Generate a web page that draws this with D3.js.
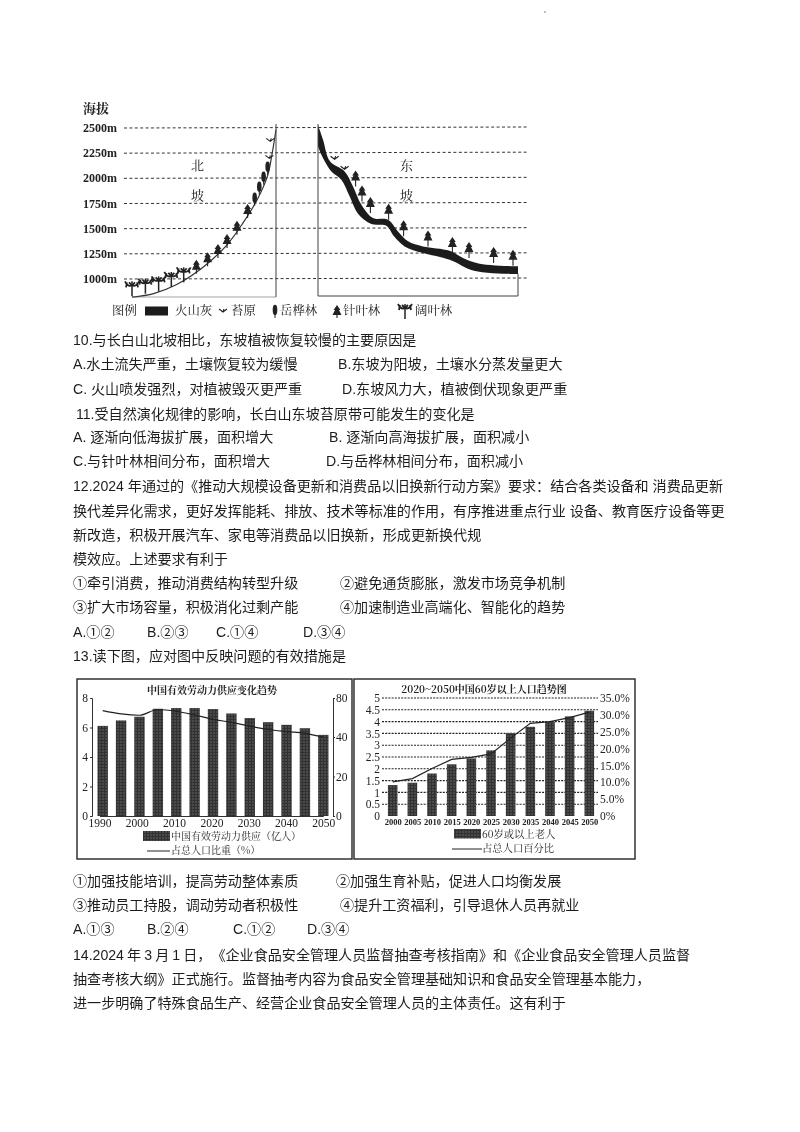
<!DOCTYPE html>
<html>
<head>
<meta charset="utf-8">
<script src="https://cdn.jsdelivr.net/npm/d3@7"></script>
<style>
  html, body { margin: 0; padding: 0; background: #fff; }
  svg { display: block; }
  .para { font-family: "Liberation Sans", "Noto Sans CJK SC", sans-serif; font-size: 14.08px; fill: #1e1e1e; text-spacing-trim: space-all; }
  .fig text { font-family: "Noto Serif CJK SC", "Noto Sans CJK SC", "Liberation Serif", serif; fill: #222; text-spacing-trim: space-all; }
</style>
</head>
<body>
<svg id="page" width="800" height="1132"></svg>
<script>
// 山坡剖面：[水平距离(%), 海拔(m)]
const elevTicks = [1000, 1250, 1500, 1750, 2000, 2250, 2500];
const northSlope = [[0, 820], [15, 855], [31, 945], [50, 1125], [66, 1340], [77, 1555], [87, 1790], [94, 2020], [97, 2220], [100, 2485]];
const ashUpper = [[0, 2530], [2.5, 2384], [6, 2169], [13.3, 2069], [17.5, 1920], [21.7, 1738], [27.5, 1606], [35, 1589], [40, 1473], [45, 1374], [52.5, 1324], [65.8, 1281], [72.5, 1209], [80.8, 1152], [100, 1126]];
const ashLower = [[0, 2318], [1.7, 2235], [6.7, 2069], [11.7, 1987], [15.8, 1821], [20, 1649], [26.7, 1546], [34.2, 1530], [38, 1424], [43.3, 1324], [52.5, 1258], [65.8, 1192], [78, 1083], [100, 1050]];
// 植被符号位置
const northBroadleaf = [[0, 828], [9.3, 854], [18.5, 877], [27.3, 921], [35.9, 967]];
const northConifer = [[44.7, 1053], [52.5, 1126], [59.7, 1209], [66, 1308], [72.9, 1440], [80.3, 1606]];
const northBirch = [[85.2, 1728], [88.4, 1838], [91.4, 1937], [94.2, 2036]];
const northMoss = [[96, 2377], [95.4, 2208]];
const eastConifer = [[18.8, 1920], [22, 1771], [26.2, 1656], [35.3, 1589], [42.8, 1424], [55, 1324], [67.2, 1258], [75.5, 1209], [87.8, 1159], [97.5, 1132]];
const eastMoss = [[8.3, 2200], [13.3, 2100]];

// 劳动力图
const laborYears = [1990, 1995, 2000, 2005, 2010, 2015, 2020, 2025, 2030, 2035, 2040, 2045, 2050];
const laborSupply = [6.11, 6.48, 6.73, 7.27, 7.32, 7.32, 7.25, 6.95, 6.64, 6.36, 6.18, 5.95, 5.5];
const laborShare = [67.1, 63.7, 62.3, 68.2, 66.4, 62.6, 58.1, 55, 51.1, 47.7, 45.6, 43.8, 40];
const laborYearLabels = [1990, 2000, 2010, 2020, 2030, 2040, 2050];
const laborLeftTicks = [0, 2, 4, 6, 8];
const laborRightTicks = [0, 20, 40, 80];

// 老龄人口图
const agedYears = [2000, 2005, 2010, 2015, 2020, 2025, 2030, 2035, 2040, 2045, 2050];
const agedCount = [1.31, 1.41, 1.8, 2.19, 2.44, 2.78, 3.51, 3.78, 3.98, 4.22, 4.46];
const agedShare = [10.1, 11.1, 14.1, 16.8, 17.4, 18.4, 23.1, 27.5, 28, 29.2, 30.8];
const agedLeftTicks = [0, 0.5, 1, 1.5, 2, 2.5, 3, 3.5, 4, 4.5, 5];
const agedRightTicks = [0, 5, 10, 15, 20, 25, 30, 35];

// 正文 [x, y, 文字]
const textLines = [
  [73, 345, "10.与长白山北坡相比，东坡植被恢复较慢的主要原因是"],
  [73, 369, "A.水土流失严重，土壤恢复较为缓慢"],
  [338, 369, "B.东坡为阳坡，土壤水分蒸发量更大"],
  [73, 394, "C. 火山喷发强烈，对植被毁灭更严重"],
  [342, 394, "D.东坡风力大，植被倒伏现象更严重"],
  [76, 419, "11.受自然演化规律的影响，长白山东坡苔原带可能发生的变化是"],
  [73, 442, "A. 逐渐向低海拔扩展，面积增大"],
  [329, 442, "B. 逐渐向高海拔扩展，面积减小"],
  [73, 466, "C.与针叶林相间分布，面积增大"],
  [326, 466, "D.与岳桦林相间分布，面积减小"],
  [73, 491, "12.2024 年通过的《推动大规模设备更新和消费品以旧换新行动方案》要求：结合各类设备和 消费品更新"],
  [73, 516, "换代差异化需求，更好发挥能耗、排放、技术等标准的作用，有序推进重点行业 设备、教育医疗设备等更"],
  [73, 540, "新改造，积极开展汽车、家电等消费品以旧换新，形成更新换代规"],
  [73, 564, "模效应。上述要求有利于"],
  [73, 588, "①牵引消费，推动消费结构转型升级"],
  [340, 588, "②避免通货膨胀，激发市场竞争机制"],
  [73, 612, "③扩大市场容量，积极消化过剩产能"],
  [340, 612, "④加速制造业高端化、智能化的趋势"],
  [73, 637, "A.①②"],
  [147, 637, "B.②③"],
  [216, 637, "C.①④"],
  [303, 637, "D.③④"],
  [73, 661, "13.读下图，应对图中反映问题的有效措施是"],
  [73, 886, "①加强技能培训，提高劳动整体素质"],
  [336, 886, "②加强生育补贴，促进人口均衡发展"],
  [73, 910, "③推动员工持股，调动劳动者积极性"],
  [340, 910, "④提升工资福利，引导退休人员再就业"],
  [73, 934, "A.①③"],
  [147, 934, "B.②④"],
  [233, 934, "C.①②"],
  [307, 934, "D.③④"],
  [73, 959.5, "14.2024 年 3 月 1 日，《企业食品安全管理人员监督抽查考核指南》和《企业食品安全管理人员监督"],
  [73, 984, "抽查考核大纲》正式施行。监督抽考内容为食品安全管理基础知识和食品安全管理基本能力，"],
  [73, 1008, "进一步明确了特殊食品生产、经营企业食品安全管理人员的主体责任。这有利于"]
];

const svg = d3.select("#page");
const defs = svg.append("defs");
defs.append("filter").attr("id", "scan").append("feGaussianBlur").attr("stdDeviation", 0.5);
defs.append("filter").attr("id", "soft").append("feGaussianBlur").attr("stdDeviation", 0.3);

// 柱子的斑点纹理
const pat = defs.append("pattern").attr("id", "speckle").attr("width", 3).attr("height", 3).attr("patternUnits", "userSpaceOnUse");
pat.append("rect").attr("width", 3).attr("height", 3).attr("fill", "#333");
pat.append("circle").attr("cx", 1).attr("cy", 1).attr("r", 0.7).attr("fill", "#777");

// 正文
svg.append("g").attr("filter", "url(#soft)").selectAll("text").data(textLines).enter().append("text")
  .attr("class", "para")
  .attr("x", d => d[0])
  .attr("y", d => d[1])
  .style("word-spacing", d => d[2].startsWith("14.") ? "-0.8px" : null)
  .text(d => d[2]);
svg.append("circle").attr("cx", 545).attr("cy", 12).attr("r", 0.7).attr("fill", "#555");

// ---------- 长白山剖面图 ----------
function drawMountain() {
  const g = svg.append("g").attr("class", "fig").attr("filter", "url(#scan)");
  const y = d3.scaleLinear().domain([1000, 2500]).range([279, 128]);
  const xN = d3.scaleLinear().domain([0, 100]).range([132, 276]);
  const xE = d3.scaleLinear().domain([0, 100]).range([318, 518]);
  const line = (x) => d3.line().x(d => x(d[0])).y(d => y(d[1])).curve(d3.curveCatmullRom);

  g.append("text").attr("x", 83).attr("y", 113).attr("font-size", 13).attr("font-weight", 700).text("海拔");

  // 虚线与海拔标签
  const rows = g.selectAll(".row").data(elevTicks).enter().append("g");
  rows.append("line").attr("x1", 124).attr("x2", 528)
    .attr("y1", d => y(d)).attr("y2", d => y(d) - 1)
    .attr("stroke", "#333").attr("stroke-width", 1).attr("stroke-dasharray", "3 2.4");
  rows.append("text").attr("x", 117).attr("y", d => y(d) + 4)
    .attr("text-anchor", "end").attr("font-size", 12).attr("font-weight", 700)
    .style("font-family", "'Liberation Serif', serif")
    .text(d => d + "m");

  // 北坡
  g.append("path").attr("d", line(xN)(northSlope)).attr("fill", "none").attr("stroke", "#333").attr("stroke-width", 1.2);
  g.append("line").attr("x1", xN(0)).attr("x2", xN(100)).attr("y1", 297).attr("y2", 297).attr("stroke", "#666").attr("stroke-width", 0.6);
  g.append("line").attr("x1", xN(100)).attr("x2", xN(100)).attr("y1", 124).attr("y2", 297).attr("stroke", "#444").attr("stroke-width", 1);

  // 东坡火山灰：上沿加下沿拼成带状，两端保持平直
  const upperD = line(xE)(ashUpper);
  const lowerD = line(xE)(ashLower.slice().reverse());
  g.append("path").attr("d", upperD + "L" + lowerD.slice(1) + "Z").attr("fill", "#1c1c1c");
  g.append("path").attr("d", `M${xE(0)},124V296H${xE(100)}V${y(1050)}`)
    .attr("fill", "none").attr("stroke", "#444").attr("stroke-width", 1);

  g.append("text").attr("x", 191).attr("y", 170).attr("font-size", 13).text("北");
  g.append("text").attr("x", 191).attr("y", 200).attr("font-size", 13).text("坡");
  g.append("text").attr("x", 400).attr("y", 170).attr("font-size", 13).text("东");
  g.append("text").attr("x", 400).attr("y", 200).attr("font-size", 13).text("坡");

  // 植被符号
  function conifer(sel, h) {
    sel.append("line").attr("y1", 0).attr("y2", -h).attr("stroke", "#222").attr("stroke-width", 1.1);
    sel.append("path").attr("d", `M0,${-h - 2}L3.4,${-h + 3}H2L4.5,${-h + 8}H-4.5L-2,${-h + 3}H-3.4Z`).attr("fill", "#222");
  }
  function birch(sel) {
    sel.append("line").attr("y1", 0).attr("y2", -8).attr("stroke", "#222").attr("stroke-width", 1);
    sel.append("ellipse").attr("cy", -8).attr("rx", 2.3).attr("ry", 5.2).attr("fill", "#222");
  }
  function broadleaf(sel) {
    sel.append("line").attr("y1", 0).attr("y2", -15).attr("stroke", "#222").attr("stroke-width", 1.5);
    sel.append("path").attr("d", "M-7,-15Q-4,-9 0,-11Q4,-9 7,-15M-5,-14L-6,-9M5,-14L6,-9M0,-11L-3,-14M0,-11L3,-14")
      .attr("fill", "none").attr("stroke", "#222").attr("stroke-width", 1.8);
  }
  function moss(sel) {
    sel.append("path").attr("d", "M-4,-2L0,1L4,-2M0,1L1,-2").attr("fill", "none").attr("stroke", "#222").attr("stroke-width", 1.1);
  }
  const put = (data, x, draw) => g.append("g").selectAll("g").data(data).enter().append("g")
    .attr("transform", d => `translate(${x(d[0])},${y(d[1])})`).call(draw);
  put(northBroadleaf, xN, broadleaf);
  put(northConifer, xN, s => conifer(s, 12));
  put(northBirch, xN, birch);
  put(northMoss, xN, moss);
  put(eastConifer, xE, s => conifer(s, 14));
  put(eastMoss, xE, moss);

  // 图例
  const ly = 311, ls = 12.4;
  g.append("text").attr("x", 112).attr("y", 315).attr("font-size", ls).text("图例");
  g.append("rect").attr("x", 145).attr("y", ly - 4.5).attr("width", 23).attr("height", 9).attr("fill", "#1c1c1c");
  g.append("text").attr("x", 175).attr("y", 315).attr("font-size", ls).text("火山灰");
  g.append("g").attr("transform", `translate(223,${ly})`).call(moss);
  g.append("text").attr("x", 231).attr("y", 315).attr("font-size", ls).text("苔原");
  g.append("g").attr("transform", `translate(275,${ly + 7})`).call(birch);
  g.append("text").attr("x", 280).attr("y", 315).attr("font-size", ls).text("岳桦林");
  g.append("g").attr("transform", `translate(337,${ly + 7})`).call(s => conifer(s, 11));
  g.append("text").attr("x", 343).attr("y", 315).attr("font-size", ls).text("针叶林");
  g.append("g").attr("transform", `translate(405,${ly + 8})`).call(broadleaf);
  g.append("text").attr("x", 415).attr("y", 315).attr("font-size", ls).text("阔叶林");
}

// ---------- 中国有效劳动力供应变化趋势 ----------
function drawLabor() {
  const g = svg.append("g").attr("class", "fig").attr("filter", "url(#scan)");
  g.append("rect").attr("x", 77).attr("y", 679).attr("width", 275).attr("height", 180)
    .attr("fill", "none").attr("stroke", "#222").attr("stroke-width", 1.4);
  g.append("text").attr("x", 212).attr("y", 693.5).attr("text-anchor", "middle")
    .attr("font-size", 10).attr("font-weight", 700).text("中国有效劳动力供应变化趋势");

  const x = d3.scaleLinear().domain([1990, 2050]).range([102.7, 323.3]);
  const xLabel = d3.scaleLinear().domain([1990, 2050]).range([99.5, 323.3]);
  const yL = d3.scaleLinear().domain([0, 8]).range([816, 698]);
  // 原图右轴刻度不等距：0、20、40、80
  const yR = d3.scaleLinear().domain([0, 20, 40, 80]).range([816, 776.5, 737, 698]);

  g.append("g").selectAll("rect").data(laborYears).enter().append("rect")
    .attr("x", d => x(d) - 5.2)
    .attr("width", 10.4)
    .attr("y", (d, i) => yL(laborSupply[i]))
    .attr("height", (d, i) => 816 - yL(laborSupply[i]))
    .attr("fill", "url(#speckle)");

  g.append("path").datum(laborYears)
    .attr("d", d3.line().x(d => x(d)).y((d, i) => yR(laborShare[i])).curve(d3.curveMonotoneX))
    .attr("fill", "none").attr("stroke", "#222").attr("stroke-width", 1.2);

  const axL = d3.axisLeft(yL).tickValues(laborLeftTicks).tickSize(2).tickPadding(2);
  const axR = d3.axisRight(yR).tickValues(laborRightTicks).tickSize(2).tickPadding(1);
  const axB = d3.axisBottom(xLabel).tickValues(laborYearLabels).tickFormat(d3.format("d")).tickSize(0).tickPadding(3);
  [g.append("g").attr("transform", "translate(92,0)").call(axL),
   g.append("g").attr("transform", "translate(333,0)").call(axR),
   g.append("g").attr("transform", "translate(0,816)").call(axB)].forEach(a => {
    a.selectAll("text").attr("font-size", 11.5).style("font-family", "'Liberation Serif', serif").attr("fill", "#222");
    a.selectAll("path,line").attr("stroke", "#333");
  });

  g.append("rect").attr("x", 143).attr("y", 831).attr("width", 27).attr("height", 10).attr("fill", "url(#speckle)");
  g.append("text").attr("x", 171).attr("y", 840).attr("font-size", 10).text("中国有效劳动力供应（亿人）");
  g.append("line").attr("x1", 147).attr("x2", 170).attr("y1", 851).attr("y2", 851).attr("stroke", "#222");
  g.append("text").attr("x", 171).attr("y", 854).attr("font-size", 10).text("占总人口比重（%）");
}

// ---------- 2020~2050中国60岁以上人口趋势图 ----------
function drawAged() {
  const g = svg.append("g").attr("class", "fig").attr("filter", "url(#scan)");
  g.append("rect").attr("x", 354).attr("y", 679).attr("width", 281).attr("height", 180)
    .attr("fill", "none").attr("stroke", "#222").attr("stroke-width", 1.4);
  g.append("text").attr("x", 484).attr("y", 693).attr("text-anchor", "middle")
    .attr("font-size", 10).attr("font-weight", 700).text("2020~2050中国60岁以上人口趋势图");

  const x = d3.scalePoint().domain(agedYears).range([392.7, 589.3]);
  const yL = d3.scaleLinear().domain([0, 5]).range([816, 698]);
  const yR = d3.scaleLinear().domain([0, 35]).range([816, 698]);

  g.append("g").selectAll("line").data(agedLeftTicks.slice(1)).enter().append("line")
    .attr("x1", 382).attr("x2", 598)
    .attr("y1", d => yL(d)).attr("y2", d => yL(d))
    .attr("stroke", "#222").attr("stroke-width", 1.1).attr("stroke-dasharray", "2 1.2");

  g.append("g").selectAll("rect").data(agedYears).enter().append("rect")
    .attr("x", d => x(d) - 4.8)
    .attr("width", 9.6)
    .attr("y", (d, i) => yL(agedCount[i]))
    .attr("height", (d, i) => 816 - yL(agedCount[i]))
    .attr("fill", "url(#speckle)");

  g.append("path").datum(agedYears)
    .attr("d", d3.line().x(d => x(d)).y((d, i) => yR(agedShare[i])))
    .attr("fill", "none").attr("stroke", "#222").attr("stroke-width", 1.2);

  const axL = d3.axisLeft(yL).tickValues(agedLeftTicks).tickFormat(d => d).tickSize(0).tickPadding(2);
  const axR = d3.axisRight(yR).tickValues(agedRightTicks).tickFormat(d => d === 0 ? "0%" : d.toFixed(1) + "%").tickSize(0).tickPadding(2);
  const axB = d3.axisBottom(x).tickSize(0).tickPadding(3);
  const a1 = g.append("g").attr("transform", "translate(382,0)").call(axL);
  const a2 = g.append("g").attr("transform", "translate(598,0)").call(axR);
  const a3 = g.append("g").attr("transform", "translate(0,816)").call(axB);
  [a1, a2, a3].forEach(a => {
    a.select(".domain").remove();
    a.selectAll("text").style("font-family", "'Liberation Serif', serif").attr("fill", "#222");
  });
  a1.selectAll("text").attr("font-size", 11.5);
  a2.selectAll("text").attr("font-size", 11.5);
  a3.selectAll("text").attr("font-size", 8.5).attr("font-weight", 700);

  g.append("rect").attr("x", 454).attr("y", 829).attr("width", 27).attr("height", 9.5).attr("fill", "url(#speckle)");
  g.append("text").attr("x", 482).attr("y", 838).attr("font-size", 10.3).text("60岁或以上老人");
  g.append("line").attr("x1", 452).attr("x2", 482).attr("y1", 849).attr("y2", 849).attr("stroke", "#222");
  g.append("text").attr("x", 482).attr("y", 852).attr("font-size", 10.3).text("占总人口百分比");
}

drawMountain();
drawLabor();
drawAged();
</script>
</body>
</html>
